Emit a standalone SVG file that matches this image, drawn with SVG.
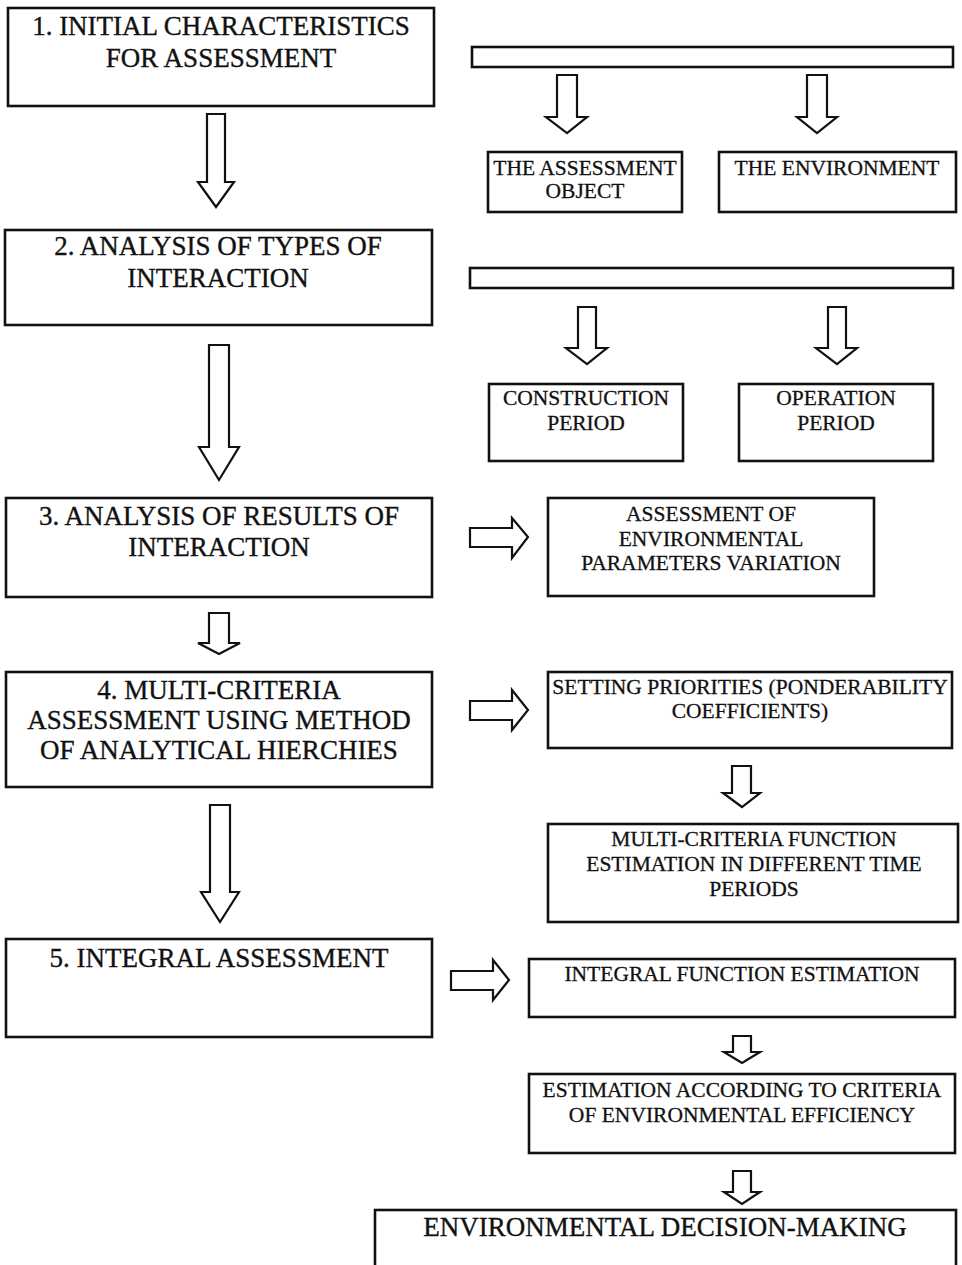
<svg xmlns="http://www.w3.org/2000/svg" width="962" height="1265" viewBox="0 0 962 1265">
  <style>
    .box { fill: #ffffff; stroke: #111111; stroke-width: 2.6; }
    .arrow { fill: #ffffff; stroke: #111111; stroke-width: 2.2; stroke-linejoin: miter; }
    .big { font-family: "Liberation Serif", "Times New Roman", serif; font-size: 27px; fill: #111111; stroke: #111111; stroke-width: 0.35; text-anchor: middle; }
    .small { font-family: "Liberation Serif", "Times New Roman", serif; font-size: 21.5px; fill: #111111; stroke: #111111; stroke-width: 0.3; text-anchor: middle; }
  </style>
  <rect width="962" height="1265" fill="#ffffff"/>

  <!-- block arrows between stages -->
  <g id="connectors">
    <!-- left column, downward -->
    <polygon class="arrow" points="207,114 225,114 225,182 234,182 216,207 198,182 207,182"/>
    <polygon class="arrow" points="209,345 229,345 229,447 239,447 219,480 199,447 209,447"/>
    <polygon class="arrow" points="209,613 229,613 229,643 240,643 219,654 198,643 209,643"/>
    <polygon class="arrow" points="210,805 230,805 230,892 239,892 220,922 201,892 210,892"/>
    <!-- from the first bar -->
    <polygon class="arrow" points="557,75 577,75 577,117 587,117 567,133 546,117 557,117"/>
    <polygon class="arrow" points="807,75 827,75 827,117 837,117 817,133 797,117 807,117"/>
    <!-- from the second bar -->
    <polygon class="arrow" points="578,307 596,307 596,348 607,348 587,364 566,348 578,348"/>
    <polygon class="arrow" points="828,307 846,307 846,348 857,348 837,364 816,348 828,348"/>
    <!-- rightward arrows -->
    <polygon class="arrow" points="470,528 512,528 512,518 528,537 512,558 512,547 470,547"/>
    <polygon class="arrow" points="470,701 512,701 512,690 528,710 512,730 512,720 470,720"/>
    <polygon class="arrow" points="451,971 493,971 493,960 509,980 493,1000 493,990 451,990"/>
    <!-- right column, downward -->
    <polygon class="arrow" points="732,766 751,766 751,793 760,793 742,807 723,793 732,793"/>
    <polygon class="arrow" points="733,1036 751,1036 751,1052 760,1052 742,1063 724,1052 733,1052"/>
    <polygon class="arrow" points="733,1171 751,1171 751,1192 760,1192 742,1204 724,1192 733,1192"/>
  </g>

  <g id="stage1">
    <rect class="box" x="8" y="8" width="426" height="98"/>
    <text class="big" x="221" y="35">1. INITIAL CHARACTERISTICS</text>
    <text class="big" x="221" y="67">FOR ASSESSMENT</text>
  </g>

  <g id="bar1">
    <rect class="box" x="472" y="47" width="481" height="20"/>
  </g>

  <g id="assessment-object">
    <rect class="box" x="488" y="152" width="194" height="60"/>
    <text class="small" x="585" y="175">THE ASSESSMENT</text>
    <text class="small" x="585" y="198">OBJECT</text>
  </g>

  <g id="environment">
    <rect class="box" x="719" y="152" width="237" height="60"/>
    <text class="small" x="837" y="175">THE ENVIRONMENT</text>
  </g>

  <g id="stage2">
    <rect class="box" x="5" y="230" width="427" height="95"/>
    <text class="big" x="218" y="255">2. ANALYSIS OF TYPES OF</text>
    <text class="big" x="218" y="287">INTERACTION</text>
  </g>

  <g id="bar2">
    <rect class="box" x="470" y="268" width="483" height="20"/>
  </g>

  <g id="construction-period">
    <rect class="box" x="489" y="384" width="194" height="77"/>
    <text class="small" x="586" y="405">CONSTRUCTION</text>
    <text class="small" x="586" y="430">PERIOD</text>
  </g>

  <g id="operation-period">
    <rect class="box" x="739" y="384" width="194" height="77"/>
    <text class="small" x="836" y="405">OPERATION</text>
    <text class="small" x="836" y="430">PERIOD</text>
  </g>

  <g id="stage3">
    <rect class="box" x="6" y="498" width="426" height="99"/>
    <text class="big" x="219" y="525">3. ANALYSIS OF RESULTS OF</text>
    <text class="big" x="219" y="556">INTERACTION</text>
  </g>

  <g id="parameters-variation">
    <rect class="box" x="548" y="498" width="326" height="98"/>
    <text class="small" x="711" y="521">ASSESSMENT OF</text>
    <text class="small" x="711" y="546">ENVIRONMENTAL</text>
    <text class="small" x="711" y="570">PARAMETERS VARIATION</text>
  </g>

  <g id="stage4">
    <rect class="box" x="6" y="672" width="426" height="115"/>
    <text class="big" x="219" y="699">4. MULTI-CRITERIA</text>
    <text class="big" x="219" y="729">ASSESSMENT USING METHOD</text>
    <text class="big" x="219" y="759">OF ANALYTICAL HIERCHIES</text>
  </g>

  <g id="setting-priorities">
    <rect class="box" x="548" y="672" width="404" height="76"/>
    <text class="small" x="750" y="694">SETTING PRIORITIES (PONDERABILITY</text>
    <text class="small" x="750" y="718">COEFFICIENTS)</text>
  </g>

  <g id="multi-criteria-function">
    <rect class="box" x="548" y="824" width="410" height="98"/>
    <text class="small" x="754" y="846">MULTI-CRITERIA FUNCTION</text>
    <text class="small" x="754" y="871">ESTIMATION IN DIFFERENT TIME</text>
    <text class="small" x="754" y="896">PERIODS</text>
  </g>

  <g id="stage5">
    <rect class="box" x="6" y="939" width="426" height="98"/>
    <text class="big" x="219" y="967">5. INTEGRAL ASSESSMENT</text>
  </g>

  <g id="integral-function">
    <rect class="box" x="529" y="959" width="426" height="58"/>
    <text class="small" x="742" y="981">INTEGRAL FUNCTION ESTIMATION</text>
  </g>

  <g id="efficiency-criteria">
    <rect class="box" x="529" y="1074" width="426" height="79"/>
    <text class="small" x="742" y="1097">ESTIMATION ACCORDING TO CRITERIA</text>
    <text class="small" x="742" y="1122">OF ENVIRONMENTAL EFFICIENCY</text>
  </g>

  <g id="decision-making">
    <rect class="box" x="375" y="1210" width="581" height="70"/>
    <text class="big" x="665" y="1236">ENVIRONMENTAL DECISION-MAKING</text>
  </g>
</svg>
